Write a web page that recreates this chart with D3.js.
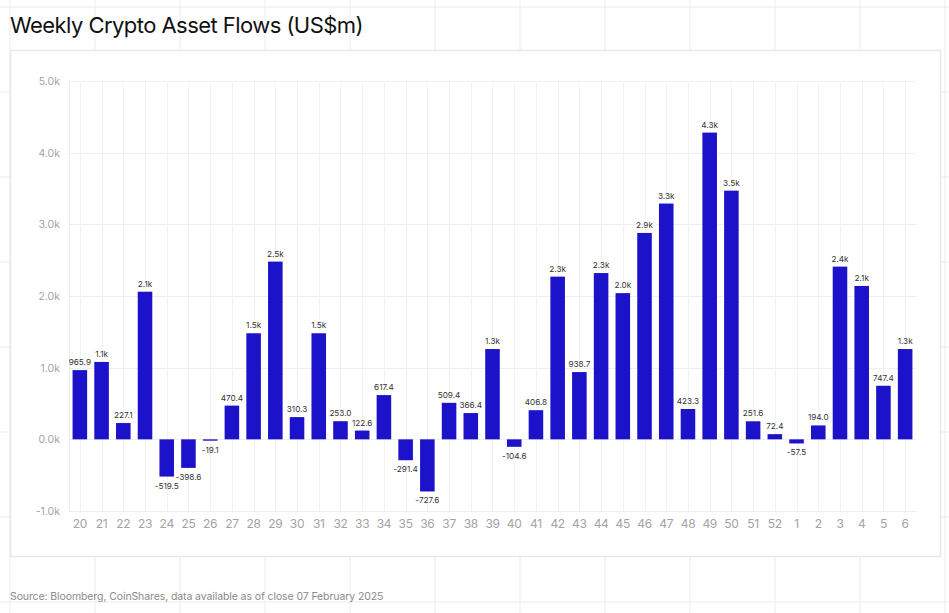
<!DOCTYPE html>
<html><head><meta charset="utf-8">
<script src="https://cdn.jsdelivr.net/npm/d3@7"></script>
<style>
html,body{margin:0;padding:0;background:#fff;}
svg{display:block;}
</style></head>
<body>
<svg id="chart" width="949" height="613"></svg>
<script>
const weeks = ["20","21","22","23","24","25","26","27","28","29","30","31","32","33","34","35","36","37","38","39","40","41","42","43","44","45","46","47","48","49","50","51","52","1","2","3","4","5","6"];
const flows = [965.9,1080,227.1,2060,-519.5,-398.6,-19.1,470.4,1480,2480,310.3,1480,253.0,122.6,617.4,-291.4,-727.6,509.4,366.4,1260,-104.6,406.8,2270,938.7,2320,2040,2880,3290,423.3,4280,3470,251.6,72.4,-57.5,194.0,2410,2140,747.4,1260];
const yTicks = [-1000,0,1000,2000,3000,4000,5000];
const title = "Weekly Crypto Asset Flows (US$m)";
const source = "Source: Bloomberg, CoinShares, data available as of close 07 February 2025";

const W = 949, H = 613;
const svg = d3.select("#chart");
const font = "Inter, 'Noto Sans', sans-serif";

// background grid
const bg = svg.append("g");
d3.range(10, W, 85).forEach(x => bg.append("line").attr("x1", x).attr("x2", x).attr("y1", 0).attr("y2", H).attr("stroke", "#ececec").attr("stroke-width", 1));
d3.range(7, H, 85).forEach(y => bg.append("line").attr("x1", 0).attr("x2", W).attr("y1", y).attr("y2", y).attr("stroke", "#ececec").attr("stroke-width", 1));

svg.append("text").attr("x", 10).attr("y", 33).attr("font-family", font).attr("font-size", 22)
  .attr("letter-spacing", -0.55).attr("fill", "#111").text(title);

// card
svg.append("rect").attr("x", 10.5).attr("y", 50.5).attr("width", 930).attr("height", 506)
  .attr("fill", "#fff").attr("stroke", "#e8e8e8").attr("stroke-width", 1.5);

const x = d3.scaleBand().domain(weeks).range([69, 916]).paddingInner(0.33).paddingOuter(0.165);
const y = d3.scaleLinear().domain([-1000, 5000]).range([511, 81]);

const g = svg.append("g");
// gridlines
g.selectAll("line.h").data(yTicks).join("line").attr("class","h")
  .attr("x1", 69).attr("x2", 916).attr("y1", d => Math.round(y(d)) + 0.5).attr("y2", d => Math.round(y(d)) + 0.5)
  .attr("stroke", "#efefef");
g.selectAll("line.v").data(weeks).join("line").attr("class","v")
  .attr("x1", d => Math.round(x(d) + x.bandwidth()/2) + 0.5).attr("x2", d => Math.round(x(d) + x.bandwidth()/2) + 0.5)
  .attr("y1", 81).attr("y2", 511).attr("stroke", "#f2f2f2");
g.append("line").attr("x1", 69.5).attr("x2", 69.5).attr("y1", 81).attr("y2", 511).attr("stroke", "#efefef");

// y axis
const yAxis = d3.axisLeft(y).tickValues(yTicks).tickSize(0).tickPadding(0)
  .tickFormat(d => (d/1000).toFixed(1) + "k");
const ya = svg.append("g").attr("transform", "translate(60,0)").call(yAxis);
ya.select(".domain").remove();
ya.selectAll("text").attr("font-family", font).attr("font-size", 10.5).attr("fill", "#a3a3a3");

// x axis
const xAxis = d3.axisBottom(x).tickSize(0).tickPadding(0);
const xa = svg.append("g").attr("transform", "translate(0,519)").call(xAxis);
xa.select(".domain").remove();
xa.selectAll("text").attr("font-family", font).attr("font-size", 12).attr("letter-spacing", -0.3).attr("fill", "#a3a3a3");

// bars
const data = weeks.map((w, i) => ({w, v: flows[i]}));
g.selectAll("rect.bar").data(data).join("rect").attr("class","bar")
  .attr("x", d => x(d.w)).attr("width", x.bandwidth())
  .attr("y", d => y(Math.max(0, d.v))).attr("height", d => Math.abs(y(d.v) - y(0)))
  .attr("fill", "#1b12c9");

const fmt = v => Math.abs(v) >= 1000 ? (v/1000).toFixed(1) + "k" : v.toFixed(1);
g.selectAll("text.lbl").data(data).join("text").attr("class","lbl")
  .attr("x", d => x(d.w) + x.bandwidth()/2)
  .attr("y", d => d.v >= 0 ? y(d.v) - 5 : y(d.v) + 12)
  .attr("text-anchor", "middle").attr("font-family", font).attr("font-size", 8.2).attr("fill", "#333")
  .text(d => fmt(d.v));

svg.append("text").attr("x", 10).attr("y", 600).attr("font-family", font).attr("font-size", 10.5)
  .attr("letter-spacing", -0.1).attr("fill", "#8a8a8a").text(source);
</script>
</body></html>
